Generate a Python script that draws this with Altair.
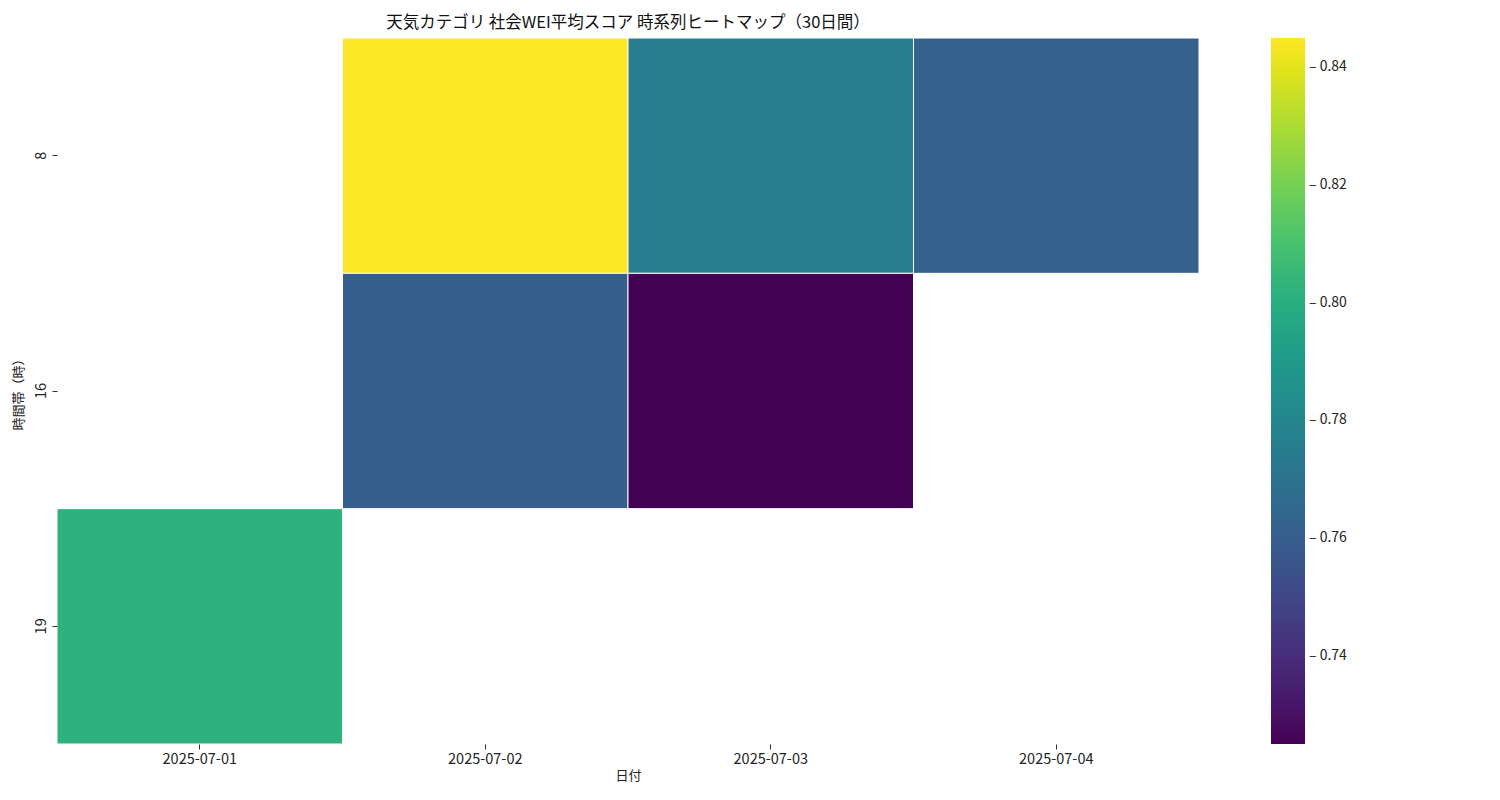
import altair as alt
import pandas as pd

dates = ["2025-07-02", "2025-07-03", "2025-07-04", "2025-07-02", "2025-07-03", "2025-07-01"]
hours = [8, 8, 8, 16, 16, 19]
scores = [0.845, 0.775, 0.762, 0.761, 0.725, 0.802]

date_order = ["2025-07-01", "2025-07-02", "2025-07-03", "2025-07-04"]
hour_order = [8, 16, 19]

df = pd.DataFrame({"date": dates, "hour": hours, "score": scores})

FONT = "Noto Sans CJK JP"

chart = alt.Chart(df).mark_rect(stroke="white", strokeWidth=1).encode(
    x=alt.X("date:O", sort=date_order, scale=alt.Scale(domain=date_order, paddingInner=0, paddingOuter=0),
            axis=alt.Axis(title="日付", labelAngle=0, domain=False, tickSize=5, tickColor="#333",
                          labelFontSize=14.5, titleFontSize=13, labelPadding=3, titlePadding=4,
                          labelColor="#222", titleColor="#222", titleFontWeight="normal")),
    y=alt.Y("hour:O", sort=hour_order, scale=alt.Scale(domain=hour_order, paddingInner=0, paddingOuter=0),
            axis=alt.Axis(title="時間帯（時）", labelAngle=270, labelAlign="center", labelBaseline="bottom",
                          domain=False, tickSize=5, tickColor="#333", labelFontSize=14.5, titleFontSize=13,
                          labelPadding=4, titlePadding=8, labelColor="#222", titleColor="#222",
                          titleFontWeight="normal")),
    color=alt.Color("score:Q",
                    scale=alt.Scale(scheme="viridis", domain=[0.725, 0.845]),
                    legend=alt.Legend(title=None, gradientLength=706, gradientThickness=34,
                                      values=[0.74, 0.76, 0.78, 0.80, 0.82, 0.84],
                                      labelExpr="'–  ' + format(datum.value, '.2f')",
                                      labelFontSize=14, labelColor="#222", labelOverlap=False,
                                      offset=72, padding=0, labelOffset=4,
                                      gradientStrokeWidth=0)),
).properties(
    width=1142,
    height=706,
    padding={"left": 4, "top": 7, "right": 5, "bottom": 0},
    title=alt.TitleParams("天気カテゴリ 社会WEI平均スコア 時系列ヒートマップ（30日間）",
                          fontSize=16.5, fontWeight="normal", color="#111", offset=6, anchor="middle"),
).configure(font=FONT).configure_view(stroke=None)

chart.save("out.html", embed_options={"renderer": "svg", "actions": False})
